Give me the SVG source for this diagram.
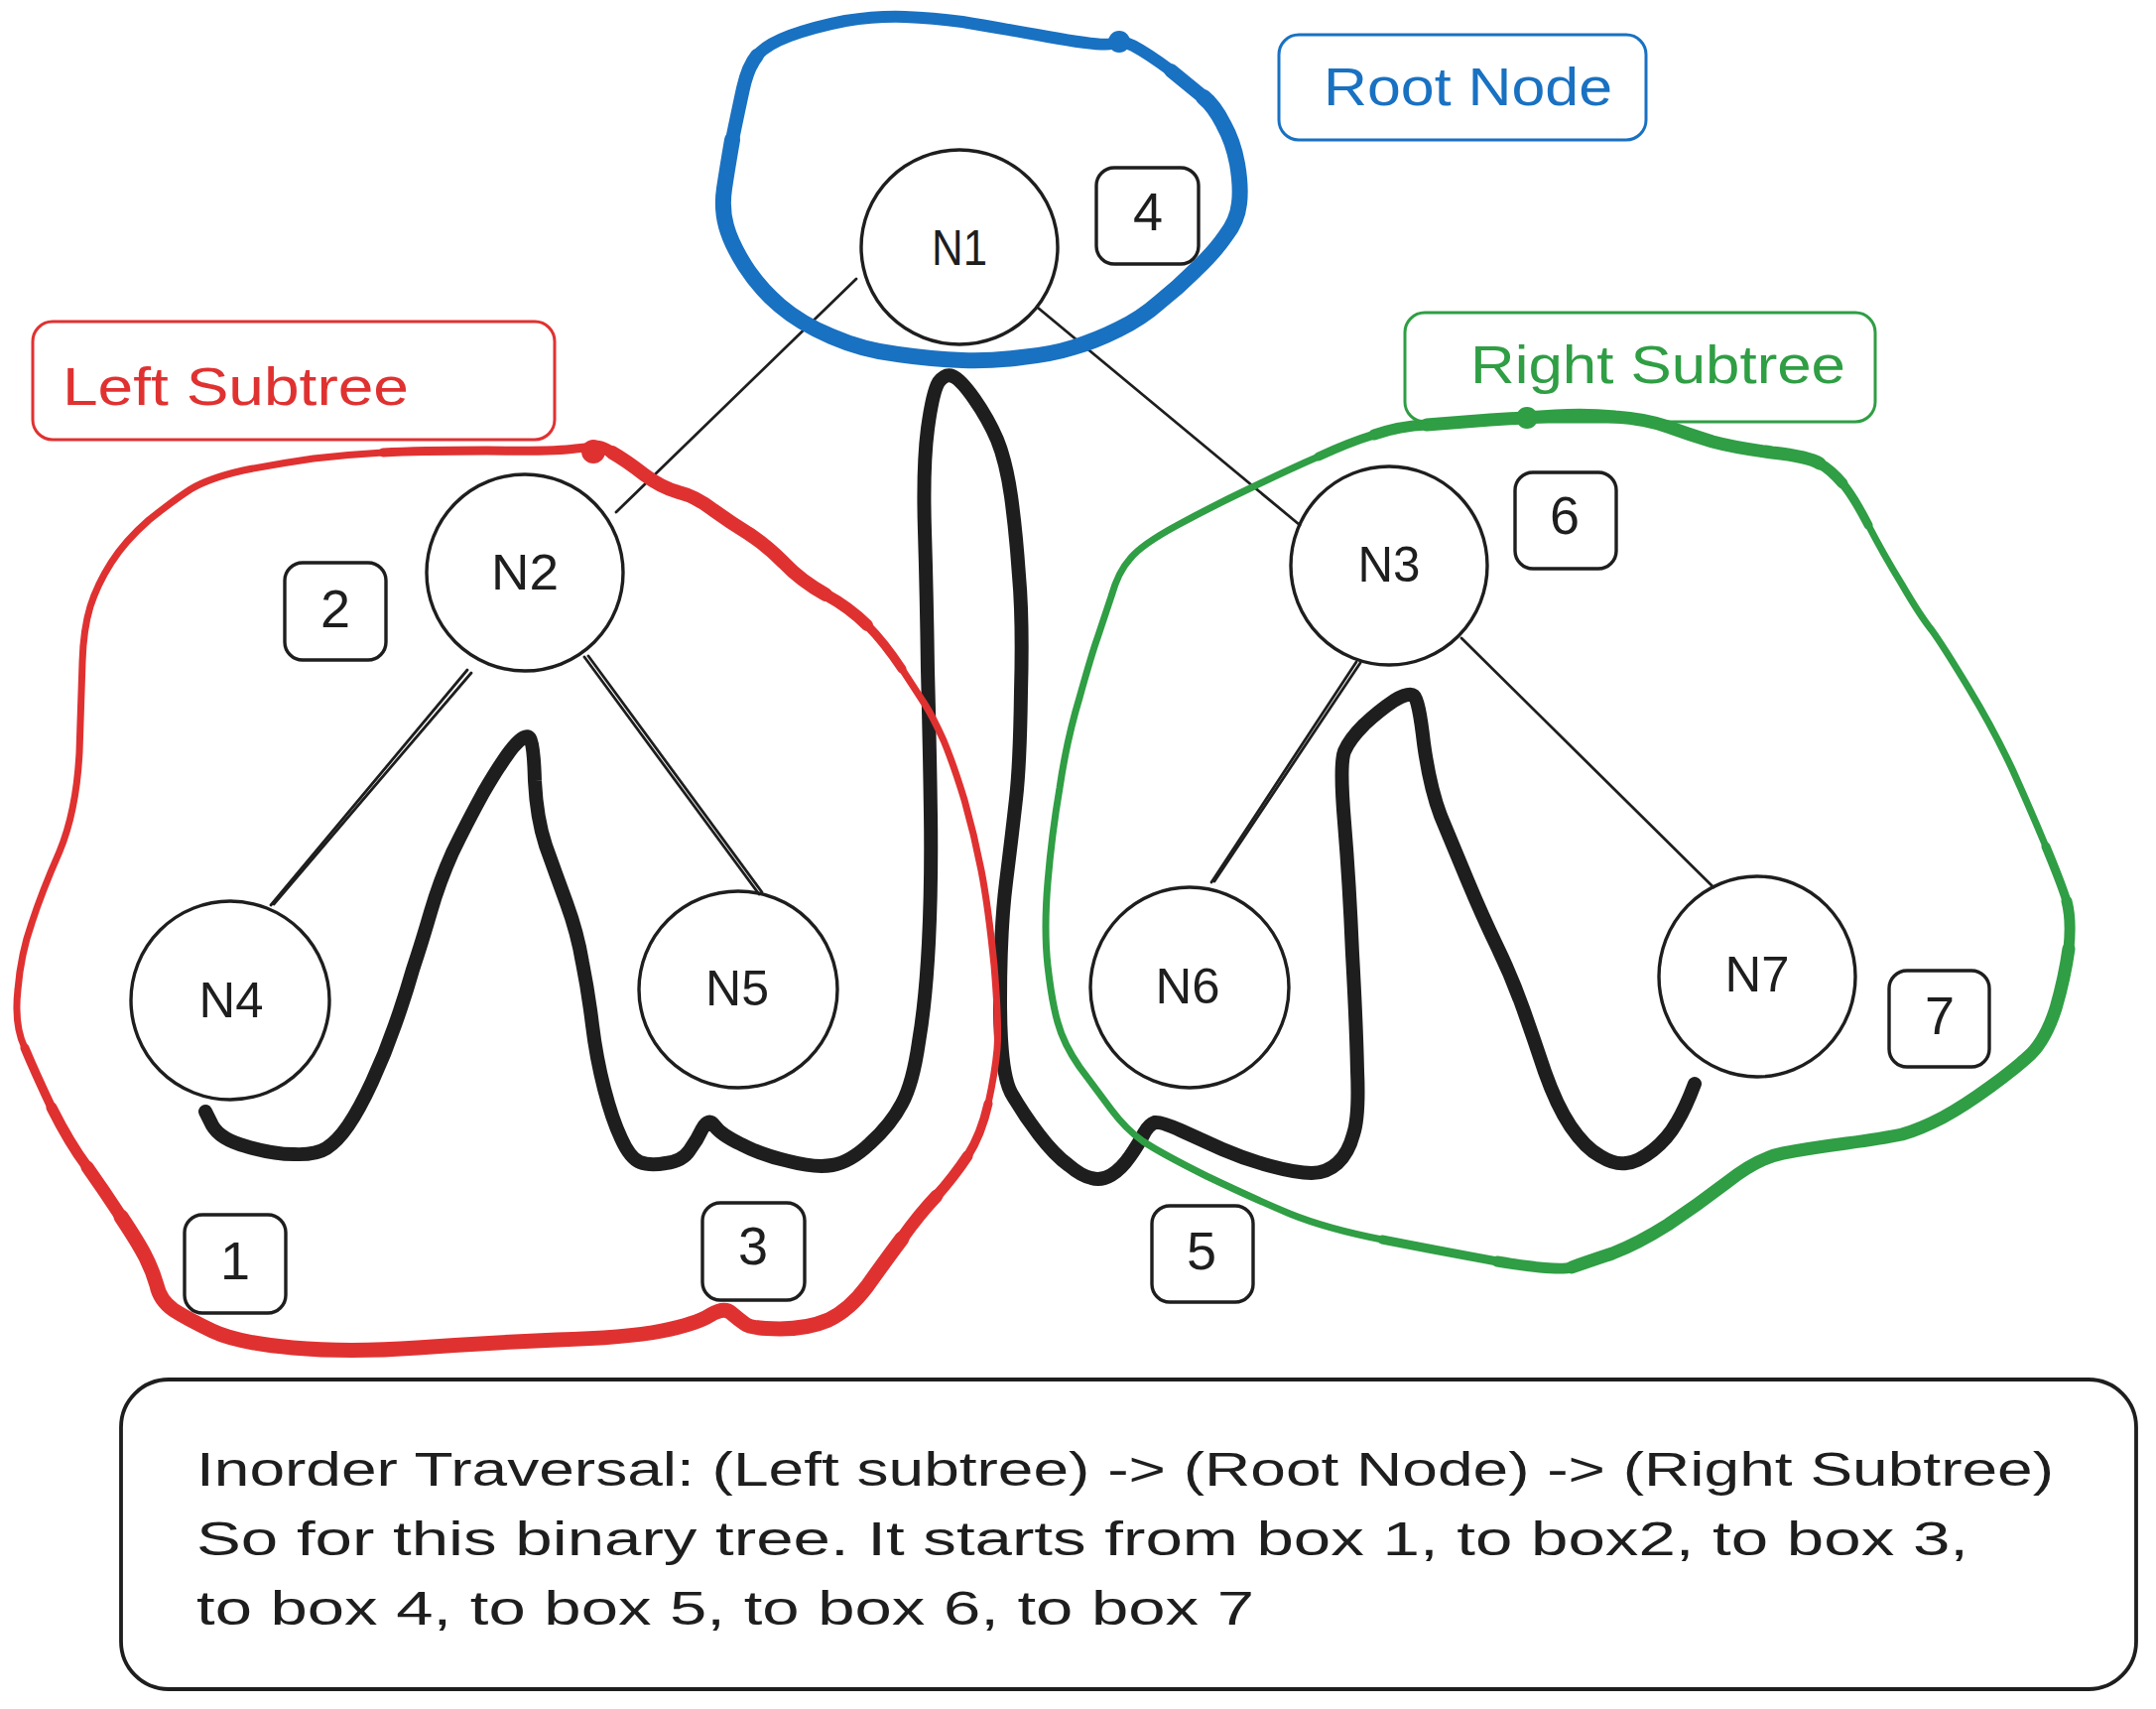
<svg xmlns="http://www.w3.org/2000/svg" width="2173" height="1722" viewBox="0 0 2173 1722">
<style>
.edge{stroke:#1e1e1e;stroke-width:2.8;fill:none;stroke-linecap:round}
.node{fill:none;stroke:#1e1e1e;stroke-width:3.4}
.nl{font-family:"Liberation Sans",Arial,sans-serif;font-size:50px;fill:#1e1e1e;text-anchor:middle}
.box{fill:none;stroke:#1e1e1e;stroke-width:3.4}
.num{font-family:"Liberation Sans",Arial,sans-serif;font-size:54px;fill:#1e1e1e;text-anchor:middle}
.lbl{font-family:"Liberation Sans",Arial,sans-serif;font-size:54px}
.trav{fill:none;stroke:#1e1e1e;stroke-linecap:round;stroke-linejoin:round}
.loop{fill:none;stroke-linecap:round;stroke-linejoin:round}
.red{stroke:#e03131}
.blue{stroke:#1971c2}
.green{stroke:#2f9e44}
.desc{font-family:"Liberation Sans",Arial,sans-serif;font-size:48px;fill:#1e1e1e}
</style>
<rect width="2173" height="1722" fill="#ffffff"/>

<g id="connectors">
<line class="edge" x1="863" y1="281" x2="621" y2="516"/>
<line class="edge" x1="1046" y1="310" x2="1310" y2="529"/>
<line class="edge" x1="471" y1="675" x2="273" y2="912"/>
<line class="edge" x1="475" y1="678" x2="276" y2="911" stroke-width="1.4"/>
<line class="edge" x1="589" y1="662" x2="765" y2="901"/>
<line class="edge" x1="593" y1="661" x2="768" y2="899" stroke-width="1.4"/>
<line class="edge" x1="1367" y1="667" x2="1221" y2="889"/>
<line class="edge" x1="1371" y1="668" x2="1224" y2="888" stroke-width="1.4"/>
<line class="edge" x1="1473" y1="643" x2="1727" y2="894"/>
</g>

<g id="traversal">
<path class="trav" stroke-width="14" d="M 207,1120 L 214,1134 Q 222,1148 248,1155 Q 275,1163 296,1163 Q 318,1164 329,1157 Q 340,1150 351,1134 Q 362,1118 375,1090 Q 388,1062 398,1033 Q 408,1005 416,977 Q 425,950 434,919 Q 443,888 456,859 Q 470,830 487,799 Q 505,768 517,753 Q 530,738 534,744 Q 538,750 539,787 Q 541,825 550,852 Q 560,880 571,910 Q 582,940 587,970 Q 593,1000 597,1033 Q 601,1066 609,1097 Q 617,1128 626,1147 Q 635,1167 645,1171 Q 655,1175 671,1172 Q 688,1170 695,1159 Q 703,1148 708,1137 Q 714,1126 720,1134 Q 726,1143 747,1153 Q 768,1164 795,1170 Q 822,1177 839,1174 Q 857,1171 877,1152 Q 898,1133 909,1112 Q 920,1092 926,1050 Q 933,1009 936,950 Q 939,890 938,820 Q 937,750 935,675 Q 934,600 932,535 Q 930,470 935,432 Q 940,395 946,385 Q 953,376 960,379 Q 968,382 982,402 Q 996,422 1005,443 Q 1014,465 1019,500 Q 1024,536 1027,580 Q 1031,625 1029,697 Q 1028,770 1024,805 Q 1020,841 1014,889 Q 1008,937 1008,1008 Q 1008,1080 1019,1101 Q 1031,1122 1047,1143 Q 1063,1164 1077,1174 Q 1090,1185 1100,1187 Q 1110,1190 1120,1184 Q 1130,1178 1139,1165 Q 1148,1152 1153,1142 Q 1158,1133 1164,1131 Q 1170,1130 1190,1139 Q 1210,1148 1232,1158 Q 1255,1168 1281,1175 Q 1307,1182 1322,1182 Q 1337,1182 1348,1172 Q 1359,1162 1364,1143 Q 1370,1125 1368,1079 Q 1367,1033 1363,961 Q 1360,889 1355,829 Q 1350,770 1355,757 Q 1360,745 1375,730 Q 1390,716 1405,706 Q 1420,697 1425,701 Q 1430,705 1435,749 Q 1441,793 1452,822 Q 1464,851 1479,887 Q 1494,923 1509,954 Q 1524,985 1535,1016 Q 1546,1047 1557,1080 Q 1569,1114 1583,1135 Q 1598,1157 1613,1165 Q 1628,1174 1639,1172 Q 1651,1171 1666,1159 Q 1681,1147 1690,1131 Q 1699,1116 1708,1092"/>
</g>

<g id="root-loop">
<path class="loop blue" stroke-width="12" d="M 1127,42 L 1120,44 Q 1112,47 1056,37 Q 1000,27 970,22 Q 940,18 912,17 Q 884,16 852,21 Q 821,27 796,36 Q 772,45 763,56 Q 754,67 749,89 Q 744,112 738,141 Q 733,170 730,190 Q 727,210 732,228 Q 737,246 751,268 Q 765,290 786,308 Q 807,326 838,339 Q 870,353 905,357 Q 940,362 970,363 Q 1000,364 1030,360 Q 1060,357 1082,350 Q 1105,343 1127,332 Q 1150,321 1168,305 Q 1187,290 1205,272 Q 1224,254 1235,238 Q 1247,223 1249,205 Q 1251,188 1247,165 Q 1243,143 1233,125 Q 1224,107 1213,98 Q 1202,89 1180,71 Q 1157,54 1142,46 L 1127,40"/>
<path class="loop blue" stroke-width="14" d="M 763,56 Q 754,67 749,89 Q 744,112 738,141 Q 733,170 730,190 Q 727,210 732,228 Q 737,246 751,268 Q 765,290 786,308 Q 807,326 838,339 Q 870,353 905,357 Q 940,362 970,363 Q 1000,364 1030,360 Q 1060,357 1082,350 Q 1105,343 1127,332 Q 1150,321 1168,305 Q 1187,290 1205,272 Q 1224,254 1235,238 Q 1247,223 1249,205 Q 1251,188 1247,165 Q 1243,143 1233,125 Q 1224,107 1213,98 Q 1202,89 1180,71"/>
<path class="loop blue" stroke-width="16" d="M 738,141 Q 733,170 730,190 Q 727,210 732,228 Q 737,246 751,268 Q 765,290 786,308 Q 807,326 838,339 Q 870,353 905,357 Q 940,362 970,363 Q 1000,364 1030,360 Q 1060,357 1082,350 Q 1105,343 1127,332 Q 1150,321 1168,305 Q 1187,290 1205,272 Q 1224,254 1235,238 Q 1247,223 1249,205 Q 1251,188 1247,165 Q 1243,143 1233,125 Q 1224,107 1213,98"/>
<circle cx="1128" cy="42" r="11" fill="#1971c2"/>
</g>

<g id="left-loop">
<path class="loop red" stroke-width="7" d="M 600,450 L 580,452 Q 561,455 491,454 Q 421,454 386,456 Q 351,458 316,462 Q 281,467 245,474 Q 210,482 192,493 Q 175,504 150,524 Q 126,545 112,567 Q 98,589 91,611 Q 84,634 83,667 Q 82,700 80,758 Q 77,817 60,858 Q 42,899 32,930 Q 21,961 18,997 Q 14,1033 25,1056 Q 35,1080 52,1116 Q 70,1152 88,1176 Q 105,1200 122,1226 Q 140,1253 147,1267 Q 154,1281 158,1295 Q 161,1310 175,1320 Q 189,1329 214,1341 Q 239,1353 295,1358 Q 351,1363 421,1358 Q 491,1353 561,1350 Q 631,1348 667,1341 Q 702,1334 716,1325 Q 730,1317 737,1323 Q 744,1329 751,1334 Q 758,1339 786,1339 Q 814,1339 835,1330 Q 856,1320 874,1296 Q 891,1272 909,1248 Q 926,1224 944,1205 Q 961,1186 975,1165 Q 989,1143 996,1112 Q 1003,1080 1005,1057 Q 1007,1033 1002,973 Q 996,913 989,877 Q 982,841 972,806 Q 961,770 951,746 Q 940,722 933,711 Q 926,700 909,674 Q 891,647 874,630 Q 856,612 832,599 Q 807,585 790,567 Q 772,549 755,538 Q 737,527 719,514 Q 701,500 684,496 Q 666,491 649,478 Q 631,464 617,456 Q 603,448 600,450"/>
<path class="loop red" stroke-width="9" d="M 25,1056 Q 35,1080 52,1116 Q 70,1152 88,1176 Q 105,1200 122,1226 Q 140,1253 147,1267 Q 154,1281 158,1295 Q 161,1310 175,1320 Q 189,1329 214,1341 Q 239,1353 295,1358 Q 351,1363 421,1358 Q 491,1353 561,1350 Q 631,1348 667,1341 Q 702,1334 716,1325 Q 730,1317 737,1323 Q 744,1329 751,1334 Q 758,1339 786,1339 Q 814,1339 835,1330 Q 856,1320 874,1296 Q 891,1272 909,1248 Q 926,1224 944,1205 Q 961,1186 975,1165 Q 989,1143 996,1112"/>
<path class="loop red" stroke-width="11" d="M 52,1116 Q 70,1152 88,1176 Q 105,1200 122,1226 Q 140,1253 147,1267 Q 154,1281 158,1295 Q 161,1310 175,1320 Q 189,1329 214,1341 Q 239,1353 295,1358 Q 351,1363 421,1358 Q 491,1353 561,1350 Q 631,1348 667,1341 Q 702,1334 716,1325 Q 730,1317 737,1323 Q 744,1329 751,1334 Q 758,1339 786,1339 Q 814,1339 835,1330 Q 856,1320 874,1296 Q 891,1272 909,1248 Q 926,1224 944,1205 Q 961,1186 975,1165"/>
<path class="loop red" stroke-width="13" d="M 88,1176 Q 105,1200 122,1226 Q 140,1253 147,1267 Q 154,1281 158,1295 Q 161,1310 175,1320 Q 189,1329 214,1341 Q 239,1353 295,1358 Q 351,1363 421,1358 Q 491,1353 561,1350 Q 631,1348 667,1341 Q 702,1334 716,1325 Q 730,1317 737,1323 Q 744,1329 751,1334 Q 758,1339 786,1339 Q 814,1339 835,1330 Q 856,1320 874,1296 Q 891,1272 909,1248 Q 926,1224 944,1205"/>
<path class="loop red" stroke-width="15" d="M 122,1226 Q 140,1253 147,1267 Q 154,1281 158,1295 Q 161,1310 175,1320 Q 189,1329 214,1341 Q 239,1353 295,1358 Q 351,1363 421,1358 Q 491,1353 561,1350 Q 631,1348 667,1341 Q 702,1334 716,1325 Q 730,1317 737,1323 Q 744,1329 751,1334 Q 758,1339 786,1339 Q 814,1339 835,1330 Q 856,1320 874,1296 Q 891,1272 909,1248"/>
<path class="loop red" stroke-width="9" d="M 909,674 Q 891,647 874,630 Q 856,612 832,599 Q 807,585 790,567 Q 772,549 755,538 Q 737,527 719,514 Q 701,500 684,496 Q 666,491 649,478 Q 631,464 617,456 Q 603,448 600,450 L 580,452 Q 561,455 491,454 Q 421,454 386,456"/>
<path class="loop red" stroke-width="12" d="M 874,630 Q 856,612 832,599 Q 807,585 790,567 Q 772,549 755,538 Q 737,527 719,514 Q 701,500 684,496 Q 666,491 649,478 Q 631,464 617,456 Q 603,448 600,450"/>
<path class="loop red" stroke-width="14" d="M 832,599 Q 807,585 790,567 Q 772,549 755,538 Q 737,527 719,514 Q 701,500 684,496 Q 666,491 649,478 Q 631,464 617,456"/>
<circle cx="598" cy="455" r="12" fill="#e03131"/>
</g>

<g id="right-loop">
<path class="loop green" stroke-width="7" d="M 1539,420 L 1502,423 Q 1464,426 1438,428 Q 1411,429 1385,438 Q 1359,446 1329,460 Q 1299,473 1262,491 Q 1224,509 1187,529 Q 1150,549 1139,563 Q 1127,576 1120,601 Q 1112,625 1106,643 Q 1100,660 1088,703 Q 1075,746 1068,794 Q 1060,841 1056,889 Q 1052,937 1056,973 Q 1060,1009 1066,1030 Q 1072,1052 1088,1075 Q 1105,1098 1120,1118 Q 1135,1138 1152,1150 Q 1170,1162 1216,1185 Q 1262,1207 1300,1223 Q 1337,1238 1393,1249 Q 1449,1260 1509,1271 Q 1569,1281 1584,1277 Q 1598,1272 1625,1263 Q 1651,1253 1681,1234 Q 1711,1214 1741,1191 Q 1771,1167 1797,1162 Q 1823,1157 1861,1152 Q 1898,1147 1917,1143 Q 1935,1138 1958,1126 Q 1980,1114 2006,1095 Q 2032,1076 2047,1062 Q 2062,1047 2072,1016 Q 2081,985 2085,956 Q 2088,927 2083,908 Q 2077,889 2062,853 Q 2047,817 2029,777 Q 2010,736 1984,693 Q 1958,650 1947,635 Q 1935,620 1917,589 Q 1898,558 1883,529 Q 1868,500 1857,487 Q 1845,473 1834,467 Q 1823,460 1786,456 Q 1748,451 1726,445 Q 1703,438 1681,430 Q 1658,422 1628,420 Q 1598,417 1568,419 L 1539,420"/>
<path class="loop green" stroke-width="9" d="M 1393,1249 Q 1449,1260 1509,1271 Q 1569,1281 1584,1277 Q 1598,1272 1625,1263 Q 1651,1253 1681,1234 Q 1711,1214 1741,1191 Q 1771,1167 1797,1162 Q 1823,1157 1861,1152 Q 1898,1147 1917,1143 Q 1935,1138 1958,1126 Q 1980,1114 2006,1095 Q 2032,1076 2047,1062 Q 2062,1047 2072,1016 Q 2081,985 2085,956 Q 2088,927 2083,908 Q 2077,889 2062,853"/>
<path class="loop green" stroke-width="11" d="M 1509,1271 Q 1569,1281 1584,1277 Q 1598,1272 1625,1263 Q 1651,1253 1681,1234 Q 1711,1214 1741,1191 Q 1771,1167 1797,1162 Q 1823,1157 1861,1152 Q 1898,1147 1917,1143 Q 1935,1138 1958,1126 Q 1980,1114 2006,1095 Q 2032,1076 2047,1062 Q 2062,1047 2072,1016 Q 2081,985 2085,956 Q 2088,927 2083,908"/>
<path class="loop green" stroke-width="13" d="M 1584,1277 Q 1598,1272 1625,1263 Q 1651,1253 1681,1234 Q 1711,1214 1741,1191 Q 1771,1167 1797,1162 Q 1823,1157 1861,1152 Q 1898,1147 1917,1143 Q 1935,1138 1958,1126 Q 1980,1114 2006,1095 Q 2032,1076 2047,1062 Q 2062,1047 2072,1016 Q 2081,985 2085,956"/>
<path class="loop green" stroke-width="9" d="M 1329,460 Q 1359,446 1385,438 Q 1411,429 1438,428 Q 1464,426 1502,423 L 1568,419 Q 1598,417 1628,420 Q 1658,422 1681,430 Q 1703,438 1726,445 Q 1748,451 1786,456 Q 1823,460 1834,467 Q 1845,473 1857,487 Q 1868,500 1883,529"/>
<path class="loop green" stroke-width="11" d="M 1385,438 Q 1411,429 1438,428 Q 1464,426 1502,423 L 1568,419 Q 1598,417 1628,420 Q 1658,422 1681,430 Q 1703,438 1726,445 Q 1748,451 1786,456 Q 1823,460 1834,467 Q 1845,473 1857,487"/>
<path class="loop green" stroke-width="13" d="M 1438,428 Q 1464,426 1502,423 L 1568,419 Q 1598,417 1628,420 Q 1658,422 1681,430 Q 1703,438 1726,445 Q 1748,451 1786,456 Q 1823,460 1834,467"/>
<circle cx="1539" cy="421" r="11" fill="#2f9e44"/>
</g>

<g id="node-N1"><ellipse class="node" cx="967" cy="249" rx="99" ry="98"/><text class="nl" x="967" y="267" textLength="56" lengthAdjust="spacingAndGlyphs">N1</text></g>
<g id="node-N2"><ellipse class="node" cx="529" cy="577" rx="99" ry="99"/><text class="nl" x="529" y="594" textLength="68" lengthAdjust="spacingAndGlyphs">N2</text></g>
<g id="node-N3"><ellipse class="node" cx="1400" cy="570" rx="99" ry="100"/><text class="nl" x="1400" y="586" textLength="63" lengthAdjust="spacingAndGlyphs">N3</text></g>
<g id="node-N4"><ellipse class="node" cx="232" cy="1008" rx="100" ry="100"/><text class="nl" x="233" y="1025" textLength="65" lengthAdjust="spacingAndGlyphs">N4</text></g>
<g id="node-N5"><ellipse class="node" cx="744" cy="997" rx="100" ry="99"/><text class="nl" x="743" y="1013" textLength="64" lengthAdjust="spacingAndGlyphs">N5</text></g>
<g id="node-N6"><ellipse class="node" cx="1199" cy="995" rx="100" ry="101"/><text class="nl" x="1197" y="1011" textLength="65" lengthAdjust="spacingAndGlyphs">N6</text></g>
<g id="node-N7"><ellipse class="node" cx="1771" cy="984" rx="99" ry="101"/><text class="nl" x="1771" y="999" textLength="65" lengthAdjust="spacingAndGlyphs">N7</text></g>

<g id="box-1"><rect class="box" x="186" y="1224" width="102" height="99" rx="18"/><text class="num" x="237" y="1289">1</text></g>
<g id="box-2"><rect class="box" x="287" y="567" width="102" height="98" rx="18"/><text class="num" x="338" y="632">2</text></g>
<g id="box-3"><rect class="box" x="708" y="1212" width="103" height="98" rx="18"/><text class="num" x="759" y="1274">3</text></g>
<g id="box-4"><rect class="box" x="1105" y="169" width="103" height="97" rx="18"/><text class="num" x="1157" y="232">4</text></g>
<g id="box-5"><rect class="box" x="1161" y="1215" width="102" height="97" rx="18"/><text class="num" x="1211" y="1279">5</text></g>
<g id="box-6"><rect class="box" x="1527" y="476" width="102" height="97" rx="18"/><text class="num" x="1577" y="538">6</text></g>
<g id="box-7"><rect class="box" x="1904" y="978" width="101" height="97" rx="18"/><text class="num" x="1955" y="1042">7</text></g>

<g id="label-root"><rect x="1289" y="35" width="370" height="106" rx="20" fill="none" stroke="#1971c2" stroke-width="3"/><text class="lbl" x="1334" y="106" fill="#1971c2" textLength="291" lengthAdjust="spacingAndGlyphs">Root Node</text></g>
<g id="label-left"><rect x="33" y="324" width="526" height="119" rx="20" fill="none" stroke="#e03131" stroke-width="3"/><text class="lbl" x="63" y="408" fill="#e03131" textLength="349" lengthAdjust="spacingAndGlyphs">Left Subtree</text></g>
<g id="label-right"><rect x="1416" y="315" width="474" height="110" rx="20" fill="none" stroke="#2f9e44" stroke-width="3"/><text class="lbl" x="1482" y="386" fill="#2f9e44" textLength="378" lengthAdjust="spacingAndGlyphs">Right Subtree</text></g>

<g id="description">
<rect x="122" y="1390" width="2031" height="312" rx="48" fill="none" stroke="#1e1e1e" stroke-width="3.8"/>
<text class="desc" x="198" y="1497" textLength="1872" lengthAdjust="spacingAndGlyphs">Inorder Traversal: (Left subtree) -&gt; (Root Node) -&gt; (Right Subtree)</text>
<text class="desc" x="198" y="1567" textLength="1786" lengthAdjust="spacingAndGlyphs">So for this binary tree. It starts from box 1, to box2, to box 3,</text>
<text class="desc" x="198" y="1637" textLength="1066" lengthAdjust="spacingAndGlyphs">to box 4, to box 5, to box 6, to box 7</text>
</g>
</svg>
